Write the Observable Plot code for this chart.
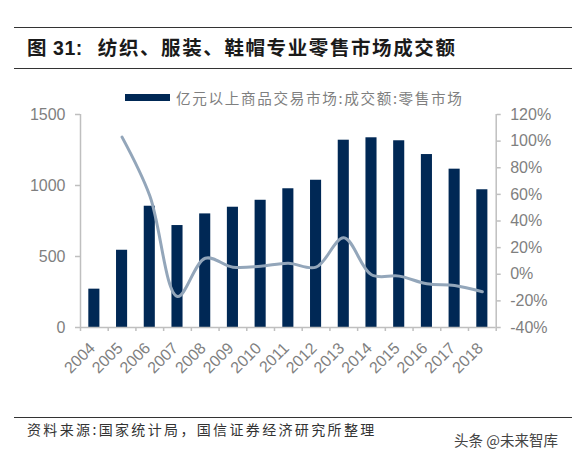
<!DOCTYPE html>
<html>
<head>
<meta charset="utf-8">
<script src="https://cdn.jsdelivr.net/npm/d3@7"></script>
<script src="https://cdn.jsdelivr.net/npm/@observablehq/plot@0.6"></script>
<style>
html,body{margin:0;padding:0;background:#fff;}
body{width:572px;height:459px;position:relative;overflow:hidden;font-family:"Noto Sans CJK SC",sans-serif;}
.abs{position:absolute;white-space:nowrap;}
.rule{position:absolute;left:14px;right:0;height:1px;background:#333;}
#title{left:27px;top:33px;font-size:19.5px;line-height:28px;font-weight:700;color:#1a1a1a;letter-spacing:1.6px;}
#title b{font-family:"Liberation Sans",sans-serif;letter-spacing:0.5px;margin-right:15px;margin-left:5px;}
#swatch{left:125px;top:94px;width:45px;height:7px;background:#002855;}
#legend{left:176px;top:88px;font-size:14.6px;line-height:20px;color:#7f7f7f;letter-spacing:1.65px;}
#caption{left:27px;top:420px;font-size:14px;line-height:18px;color:#333;letter-spacing:2.35px;}
#mark{left:454px;top:430px;font-size:14.5px;line-height:20px;color:#444;}
#chart{position:absolute;left:0;top:100px;}
#chart svg{display:block;}
</style>
</head>
<body>
<div class="rule" style="top:27px"></div>
<div class="abs" id="title">图<b>31:</b>纺织、服装、鞋帽专业零售市场成交额</div>
<div class="rule" style="top:68px"></div>
<div class="abs" id="swatch"></div>
<div class="abs" id="legend">亿元以上商品交易市场:成交额:零售市场</div>
<div id="chart"></div>
<div class="rule" style="top:417px"></div>
<div class="abs" id="caption">资料来源:国家统计局&#xFF0C;国信证券经济研究所整理</div>
<div class="abs" id="mark">头条 @未来智库</div>
<script>
const years = [2004,2005,2006,2007,2008,2009,2010,2011,2012,2013,2014,2015,2016,2017,2018];
const turnover = [270,544,854,718,800,847,896,977,1037,1319,1336,1315,1218,1115,970];
const growth = [null,103,59,-16.7,12,5.3,6,8.3,5.3,27.4,-0.4,-1.4,-7.2,-8.5,-13.2];
const leftTicks = [0,500,1000,1500];
const rightTicks = [-40,-20,0,20,40,60,80,100,120];

// the right-hand axis shares the plot height: -40%..120% maps onto 0..1500
const toLeft = p => (p + 40) / 160 * 1500;
const toPct = v => Math.round(v / 1500 * 160 - 40);

const bars = years.map((year, i) => ({year, value: turnover[i]}));
const line = years.map((year, i) => ({year, value: growth[i]})).filter(d => d.value != null);
const boundaries = [...years.map(y => y - 0.5), years[years.length - 1] + 0.5];

const axisColor = "#bfbfbf", textColor = "#7f7f7f";
const font = {fontFamily: "Liberation Sans, Arial, sans-serif", fontSize: 16};

const chart = Plot.plot({
  width: 572, height: 280,
  marginTop: 14, marginBottom: 53, marginLeft: 80, marginRight: 76.3,
  style: {...font, background: "transparent", overflow: "visible"},
  x: {domain: [2003.5, 2018.5], axis: null},
  y: {domain: [0, 1500], axis: null},
  marks: [
    Plot.rectY(bars, {x1: d => d.year - 0.2, x2: d => d.year + 0.2, y: "value", fill: "#002855"}),
    Plot.line(line, {x: "year", y: d => toLeft(d.value), stroke: "#93a6ba", strokeWidth: 3, curve: "catmull-rom"}),
    Plot.ruleY([0], {stroke: axisColor, strokeWidth: 1.5}),
    Plot.ruleX([2003.5], {stroke: axisColor, strokeWidth: 1.5}),
    Plot.ruleX([2018.5], {stroke: axisColor, strokeWidth: 1.5}),
    Plot.axisY({anchor: "left", ticks: leftTicks, tickFormat: d => String(d), tickSize: 5, tickPadding: 10, stroke: axisColor, strokeWidth: 1.5, fill: textColor, label: null, fontSize: 16}),
    Plot.axisY({anchor: "right", ticks: rightTicks.map(toLeft), tickFormat: v => toPct(v) + "%", tickSize: 4, tickPadding: 10, stroke: axisColor, strokeWidth: 1.5, fill: textColor, label: null, fontSize: 16}),
    Plot.axisX({ticks: boundaries, tickFormat: () => "", tickSize: 4, stroke: axisColor, strokeWidth: 1.5, label: null}),
    Plot.axisX({ticks: years, tickFormat: d => String(d), tickSize: 0, tickPadding: 18, dx: -2, tickRotate: -45, fill: textColor, label: null, fontSize: 16})
  ]
});
document.getElementById("chart").appendChild(chart);
</script>
</body>
</html>
